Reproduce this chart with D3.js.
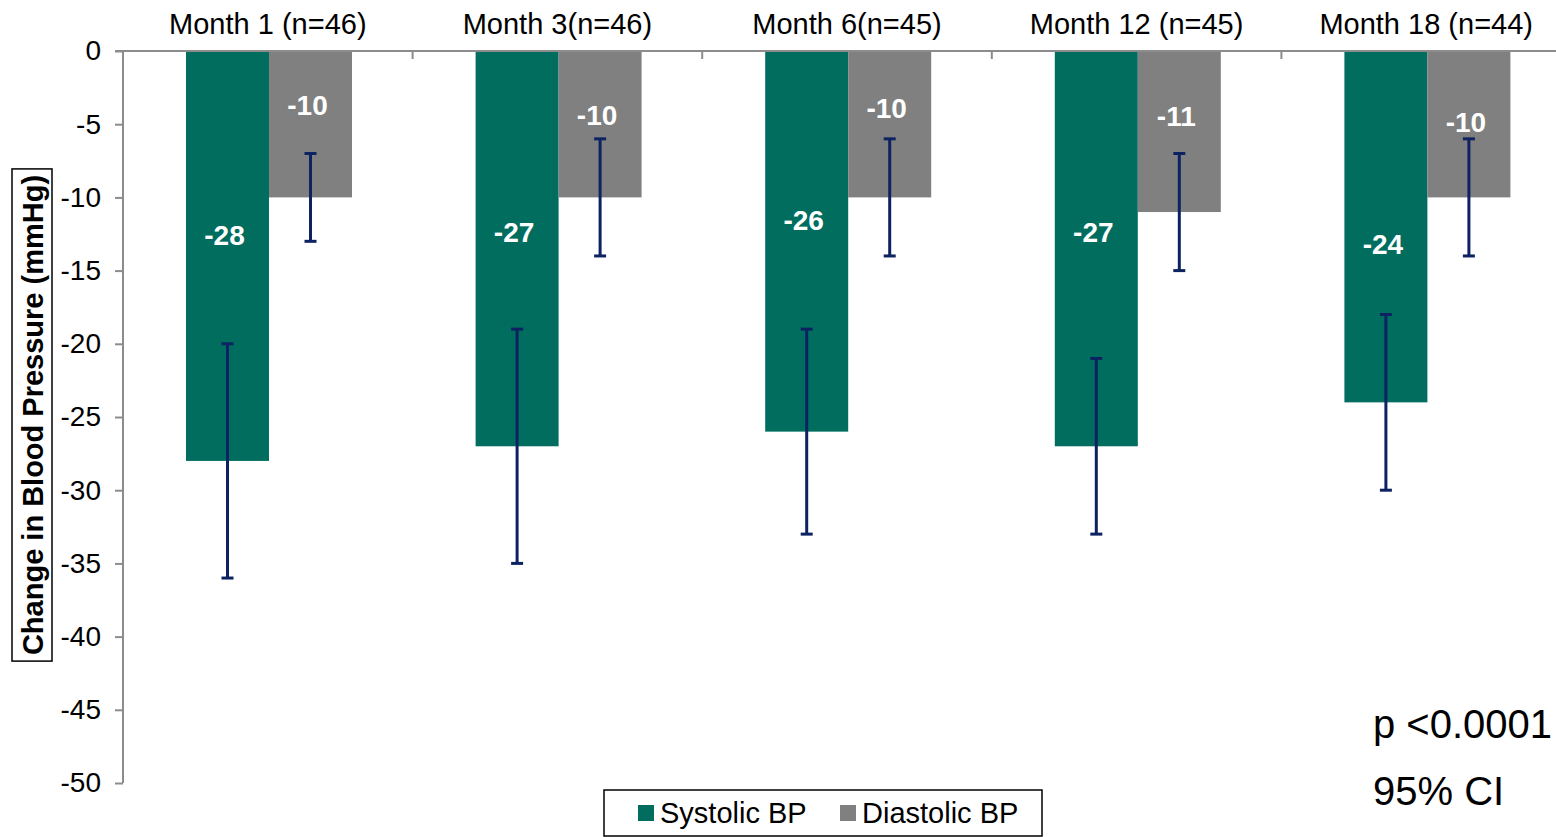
<!DOCTYPE html>
<html><head><meta charset="utf-8">
<script src="https://cdn.jsdelivr.net/npm/d3@7"></script>
<style>body{margin:0;background:#fff;overflow:hidden}svg{display:block;font-family:"Liberation Sans",Arial,sans-serif}</style>
</head><body><svg id="c" width="1556" height="837"></svg>
<script>
const categories = ["Month 1 (n=46)","Month 3(n=46)","Month 6(n=45)","Month 12 (n=45)","Month 18 (n=44)"];
const seriesNames = ["Systolic BP","Diastolic BP"];
const systolic = [-28,-27,-26,-27,-24];
const diastolic = [-10,-10,-10,-11,-10];
const systolicLow = [-36,-35,-33,-33,-30];
const systolicHigh = [-20,-19,-19,-21,-18];
const diastolicLow = [-13,-14,-14,-15,-14];
const diastolicHigh = [-7,-6,-6,-7,-6];
// where the value labels sit, in axis units
const systolicLabelAt = [-12.6,-12.35,-11.55,-12.35,-13.2];
const diastolicLabelAt = [-3.7,-4.4,-3.9,-4.45,-4.85];
const yTicks = [0,-5,-10,-15,-20,-25,-30,-35,-40,-45,-50];

const svg = d3.select("#c");
const y = d3.scaleLinear().domain([0,-50]).range([51,783]);
const x0 = d3.scaleBand().domain(categories).range([123,1571]).paddingInner(0).paddingOuter(0);
const x1 = d3.scaleBand().domain(seriesNames).range([63,229]);
const colors = {"Systolic BP":"#006d5f","Diastolic BP":"#808080"};
const axisCol = "#8c8c8c";

const data = categories.map((c,i)=>[
  {c,s:"Systolic BP",v:systolic[i],lo:systolicLow[i],hi:systolicHigh[i],la:systolicLabelAt[i]},
  {c,s:"Diastolic BP",v:diastolic[i],lo:diastolicLow[i],hi:diastolicHigh[i],la:diastolicLabelAt[i]}
]).flat();

svg.selectAll("rect.bar").data(data).join("rect").attr("class","bar")
  .attr("x",d=>x0(d.c)+x1(d.s)).attr("width",x1.bandwidth())
  .attr("y",y(0)).attr("height",d=>y(d.v)-y(0)).attr("fill",d=>colors[d.s]);

// axes
const yAxis = d3.axisLeft(y).tickValues(yTicks).tickSize(8).tickPadding(14).tickFormat(d=>String(d));
const gy = svg.append("g").attr("transform","translate(123,0)").call(yAxis);
gy.select(".domain").attr("stroke",axisCol).attr("stroke-width",2).attr("d","M0,"+y(0)+"V"+y(-50));
gy.selectAll(".tick line").attr("stroke",axisCol).attr("stroke-width",2);
gy.selectAll(".tick text").attr("font-size",28).attr("fill","#000").attr("font-family","Liberation Sans, Arial, sans-serif");

const xAxis = d3.axisTop(x0).tickSize(0).tickPadding(17);
const gx = svg.append("g").attr("transform","translate(0,"+y(0)+")").call(xAxis);
gx.select(".domain").attr("stroke",axisCol).attr("stroke-width",2).attr("d","M115,0H1571");
gx.selectAll(".tick text").attr("font-size",29).attr("fill","#000").attr("font-family","Liberation Sans, Arial, sans-serif").attr("dy","0");
svg.selectAll("line.sep").data(categories.slice(1)).join("line").attr("class","sep")
  .attr("x1",d=>x0(d)).attr("x2",d=>x0(d)).attr("y1",y(0)).attr("y2",y(0)+8)
  .attr("stroke",axisCol).attr("stroke-width",2);

// error bars
const eb = svg.append("g").attr("stroke","#0c2261").attr("stroke-width",3);
data.forEach(d=>{
  const cx = x0(d.c)+x1(d.s)+x1.bandwidth()/2;
  eb.append("line").attr("x1",cx).attr("x2",cx).attr("y1",y(d.hi)).attr("y2",y(d.lo));
  eb.append("line").attr("x1",cx-6).attr("x2",cx+6).attr("y1",y(d.hi)).attr("y2",y(d.hi));
  eb.append("line").attr("x1",cx-6).attr("x2",cx+6).attr("y1",y(d.lo)).attr("y2",y(d.lo));
});

// value labels
svg.selectAll("text.val").data(data).join("text").attr("class","val")
  .attr("x",d=>x0(d.c)+x1(d.s)+x1.bandwidth()/2 - 3)
  .attr("y",d=>y(d.la)).attr("dy","0.35em").attr("text-anchor","middle")
  .attr("font-size",28).attr("font-weight","bold").attr("fill","#fff").text(d=>d.v);

// y axis title
const titleG = svg.append("g");
const boxR = titleG.append("rect");
const yt = titleG.append("text").attr("transform","translate(33,415) rotate(-90)")
  .attr("text-anchor","middle").attr("dy","0.35em").attr("font-size",29).attr("font-weight","bold").attr("fill","#000")
  .text("Change in Blood Pressure (mmHg)");
const tw = yt.node().getComputedTextLength();
boxR.attr("x",12).attr("width",40).attr("y",415-tw/2-6).attr("height",tw+12)
  .attr("fill","none").attr("stroke","#000").attr("stroke-width",1.5);

// legend
const lg = svg.append("g");
lg.append("rect").attr("x",604).attr("y",790).attr("width",438).attr("height",46).attr("fill","#fff").attr("stroke","#000").attr("stroke-width",1.5);
const legX = [638,840];
seriesNames.forEach((s,i)=>{
  lg.append("rect").attr("x",legX[i]).attr("y",805).attr("width",16).attr("height",16).attr("fill",colors[s]);
  lg.append("text").attr("x",legX[i]+22).attr("y",823).attr("font-size",29).attr("fill","#000").text(s);
});

// annotations
svg.append("text").attr("x",1373).attr("y",738).attr("font-size",40).attr("fill","#000").text("p <0.0001");
svg.append("text").attr("x",1373).attr("y",805).attr("font-size",40).attr("fill","#000").text("95% CI");
</script></body></html>
